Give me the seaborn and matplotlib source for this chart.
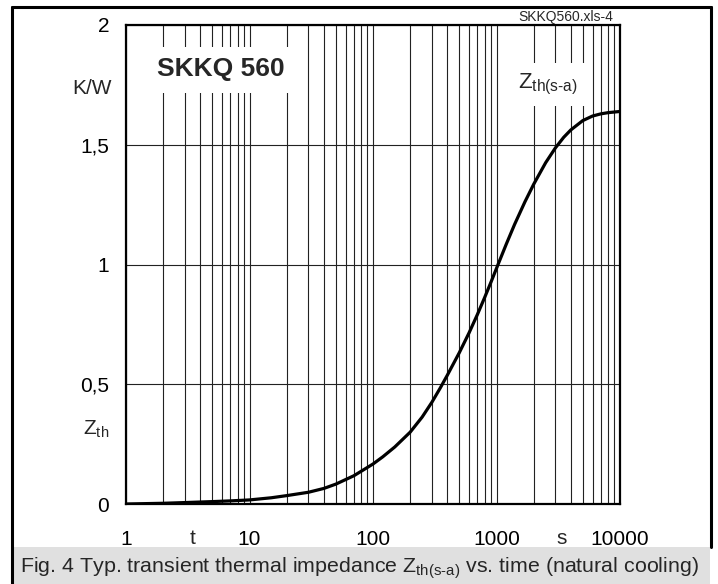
import numpy as np
import pandas as pd
import matplotlib
matplotlib.use("Agg")
import matplotlib.pyplot as plt
from matplotlib.patches import Rectangle
from matplotlib.lines import Line2D
from matplotlib.ticker import LogLocator, NullFormatter, FixedLocator
import seaborn as sns

# ---- data ----
time_s = [1, 2, 3, 5, 7, 10, 15, 20, 30, 40, 50, 70, 100, 120, 150, 200, 250, 300,
          350, 400, 500, 600, 700, 800, 900, 1000, 1200, 1400, 1700, 2000, 2500,
          3000, 3500, 4000, 5000, 6000, 7000, 8000, 10000]
zth = [0.0, 0.003, 0.006, 0.010, 0.013, 0.017, 0.026, 0.035, 0.049, 0.065, 0.083,
       0.118, 0.167, 0.197, 0.238, 0.300, 0.363, 0.425, 0.484, 0.538, 0.632, 0.715,
       0.791, 0.861, 0.925, 0.984, 1.085, 1.167, 1.262, 1.335, 1.425, 1.487, 1.531,
       1.562, 1.601, 1.620, 1.629, 1.634, 1.639]
x_ticks = [1, 10, 100, 1000, 10000]
x_ticklabels = ["1", "10", "100", "1000", "10000"]
y_ticks = [0, 0.5, 1, 1.5, 2]
y_ticklabels = ["0", "0,5", "1", "1,5", "2"]

sns.set_style("white")
plt.rcParams["font.family"] = ["Liberation Sans", "DejaVu Sans"]
plt.rcParams["mathtext.fontset"] = "custom"
plt.rcParams["mathtext.rm"] = "Liberation Sans"
plt.rcParams["mathtext.it"] = "Liberation Sans:italic"
plt.rcParams["mathtext.bf"] = "Liberation Sans:bold"

W, H = 718, 584
fig = plt.figure(figsize=(W / 100, H / 100), dpi=100)
fig.patch.set_facecolor("white")

def fx(px):
    return px / W

def fy(py):
    return 1 - py / H

ax = fig.add_axes([fx(126), fy(504), (620 - 126) / W, (504 - 25) / H])
ax.set_facecolor("white")

df = pd.DataFrame({"t": time_s, "z": zth})
sns.lineplot(data=df, x="t", y="z", ax=ax, color="black", lw=2.3, zorder=3,
             solid_joinstyle="round", solid_capstyle="round")

ax.set_xscale("log")
ax.set_xlim(1, 10000)
ax.set_ylim(0, 2)
ax.set_xlabel("")
ax.set_ylabel("")

ax.xaxis.set_major_locator(FixedLocator(x_ticks))
ax.set_xticklabels(x_ticklabels)
ax.xaxis.set_minor_locator(LogLocator(base=10, subs=np.arange(2, 10)))
ax.xaxis.set_minor_formatter(NullFormatter())
ax.set_yticks(y_ticks)
ax.set_yticklabels(y_ticklabels)

ax.tick_params(axis="both", which="both", length=0, labelsize=15, colors="black")
ax.tick_params(axis="x", pad=19)
ax.tick_params(axis="y", pad=12)

ax.set_axisbelow(True)
ax.grid(True, which="both", axis="x", color="#222222", lw=0.8)
ax.grid(True, which="major", axis="y", color="#222222", lw=0.8)

for s in ax.spines.values():
    s.set_visible(True)
    s.set_color("black")
    s.set_linewidth(1.6)

# white boxes interrupting the grid behind labels
ax.add_patch(Rectangle((0.0486, 0.858), 0.2955, 0.096, transform=ax.transAxes,
                       facecolor="white", edgecolor="none", zorder=1))
ax.add_patch(Rectangle((0.777, 0.831), 0.158, 0.090, transform=ax.transAxes,
                       facecolor="white", edgecolor="none", zorder=1))

ax.text(fx(221), fy(69), "SKKQ 560", transform=fig.transFigure, ha="center",
        va="center", fontsize=19, fontweight="bold", zorder=5)
ax.text(fx(518), fy(88), r"Z$_{\text{th(s-a)}}$", transform=fig.transFigure,
        ha="left", va="baseline", fontsize=16, zorder=5)

# axis unit / symbol labels
fig.text(fx(112), fy(89), "K/W", ha="right", va="center", fontsize=15)
fig.text(fx(83), fy(435), r"Z$_{\text{th}}$", ha="left", va="baseline", fontsize=15)
fig.text(fx(193), fy(539), "t", ha="center", va="center", fontsize=15)
fig.text(fx(562), fy(539), "s", ha="center", va="center", fontsize=15)
fig.text(fx(613), fy(17), "SKKQ560.xls-4", ha="right", va="center", fontsize=10)

# caption band
fig.patches.append(Rectangle((fx(13), 0), (710 - 13) / W, (584 - 547) / H,
                             transform=fig.transFigure, facecolor="#e0e0e0",
                             edgecolor="none", zorder=0))
fig.text(fx(20), fy(573),
         r"Fig. 4 Typ. transient thermal impedance Z$_{\text{th(s-a)}}$ vs. time (natural cooling)",
         ha="left", va="baseline", fontsize=15.4)

# outer frame
lw = 2.2
fig.lines.append(Line2D([fx(12), fx(12)], [fy(7), 0], transform=fig.transFigure,
                        color="black", lw=lw))
fig.lines.append(Line2D([fx(12), fx(711)], [fy(7), fy(7)], transform=fig.transFigure,
                        color="black", lw=lw))
fig.lines.append(Line2D([fx(711), fx(711)], [fy(7), fy(547)], transform=fig.transFigure,
                        color="black", lw=lw))

fig.savefig("out.png", dpi=100)
